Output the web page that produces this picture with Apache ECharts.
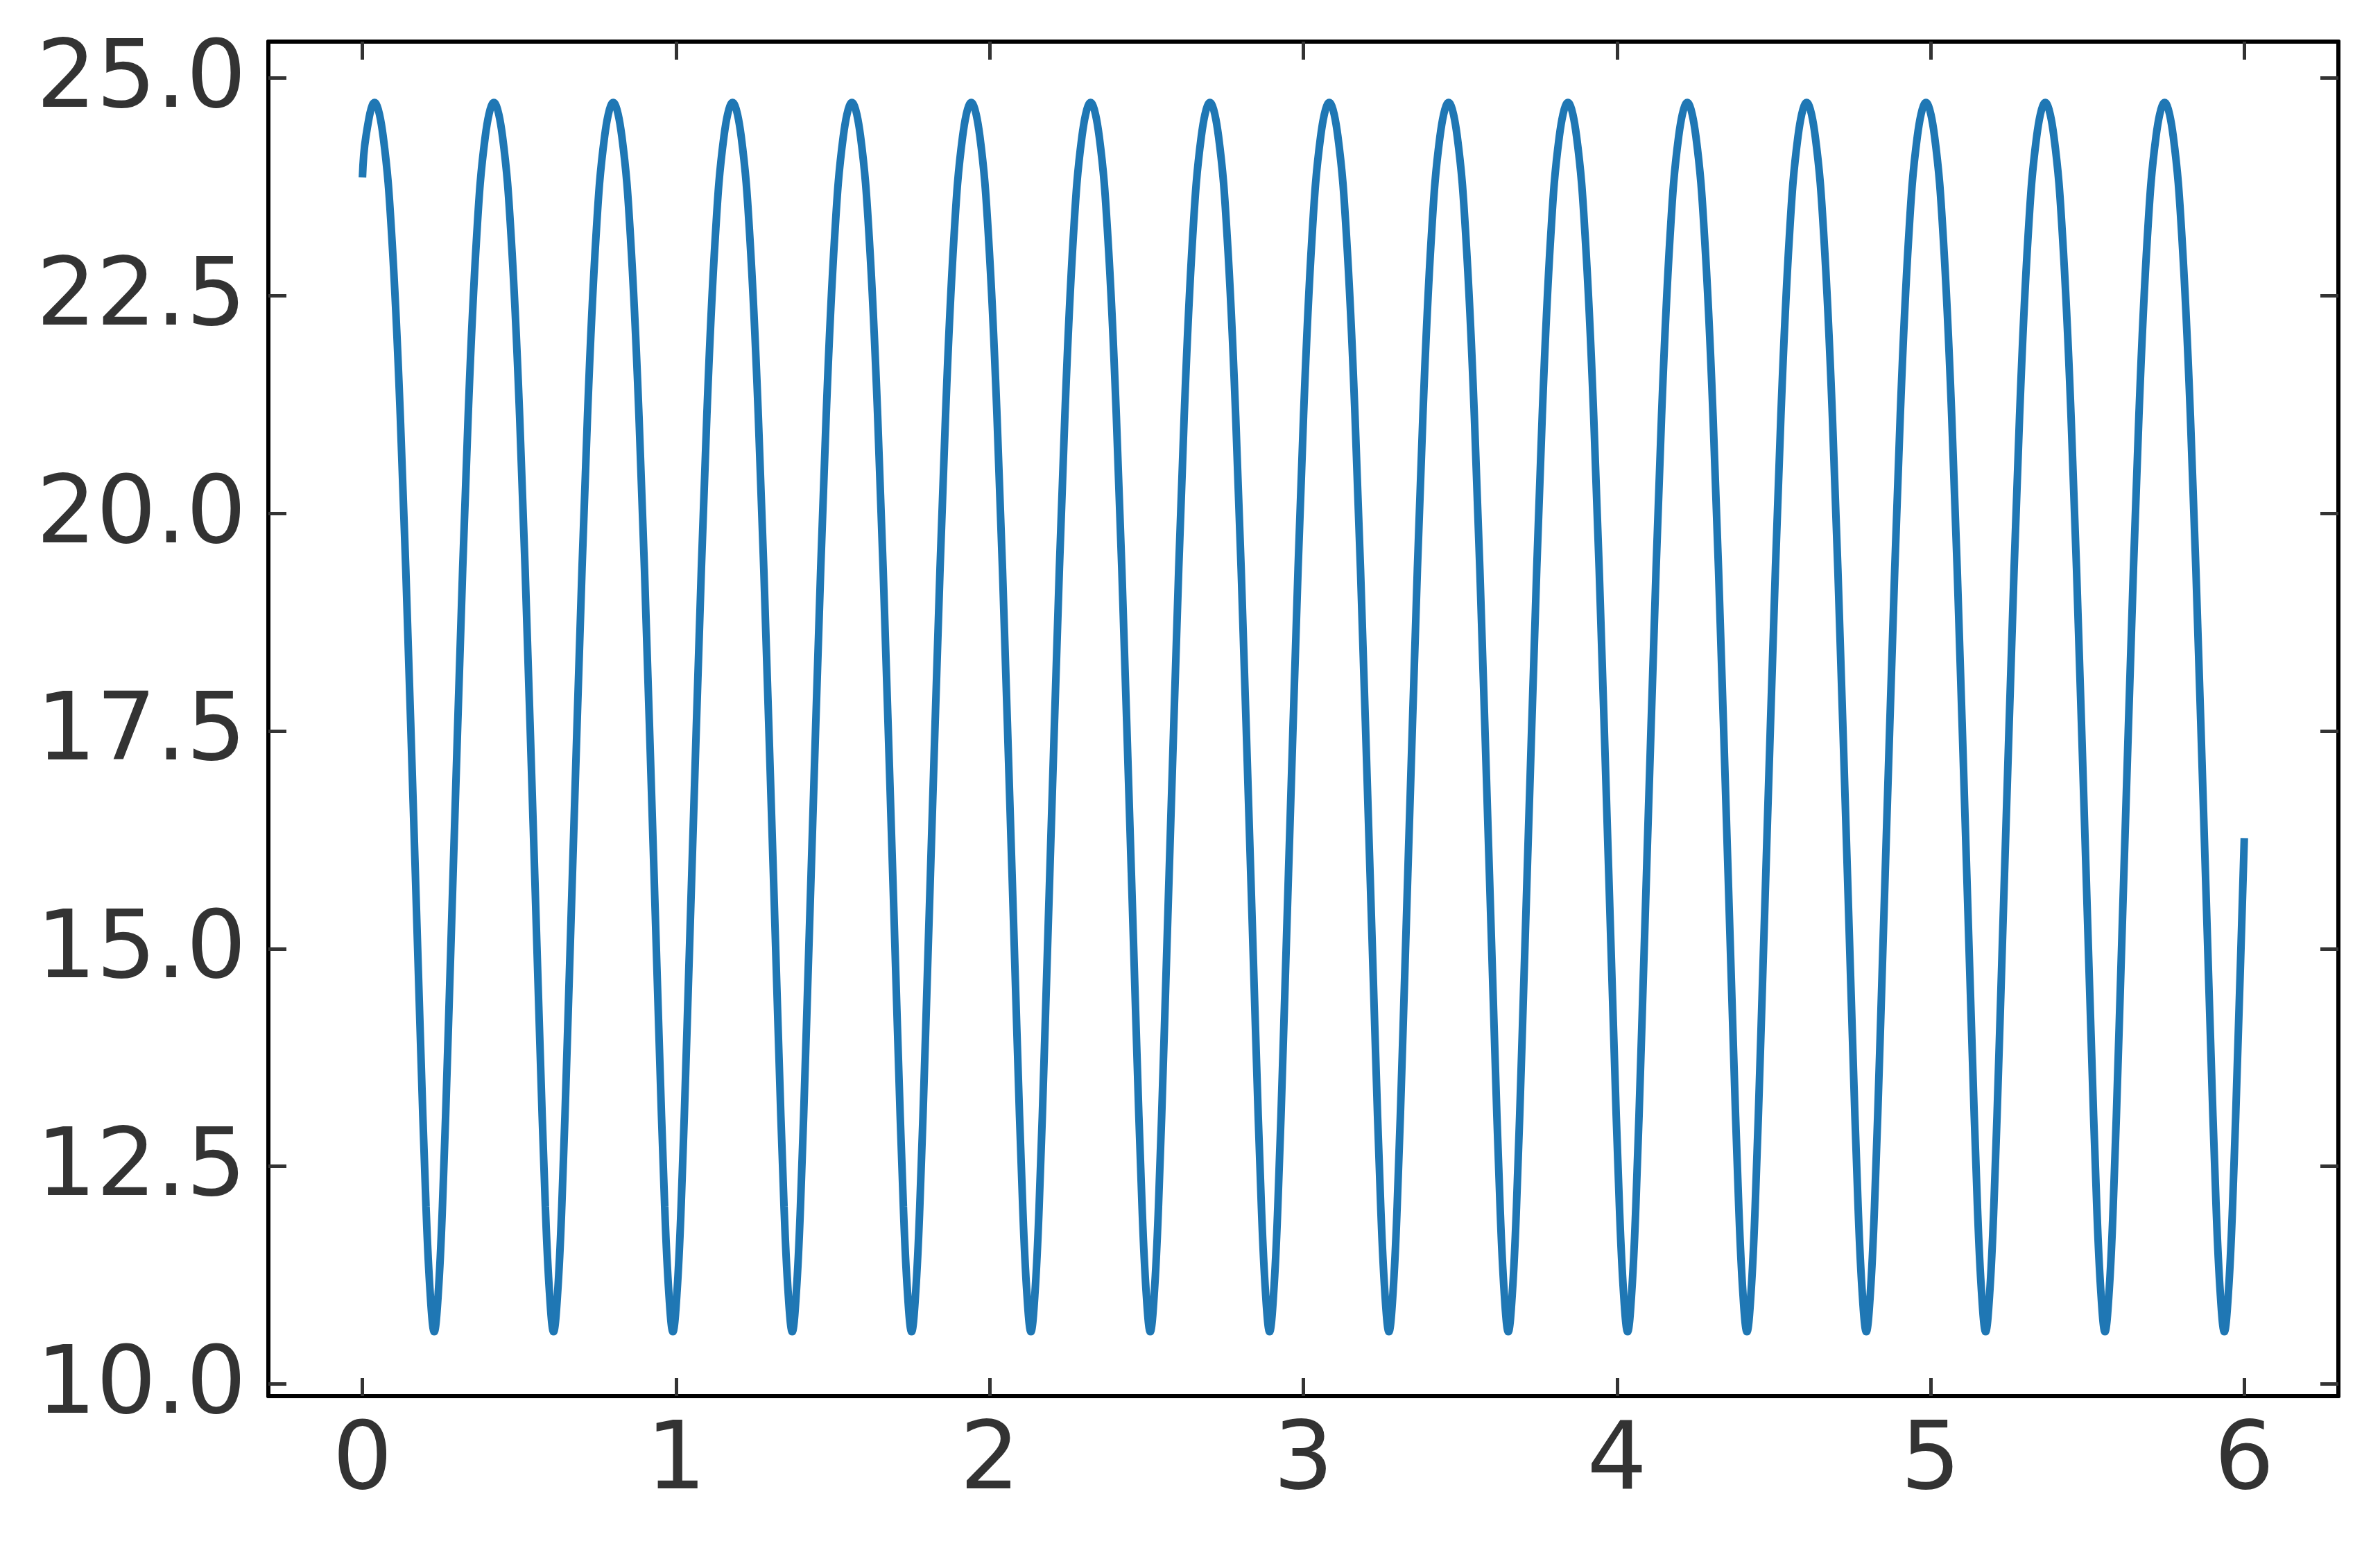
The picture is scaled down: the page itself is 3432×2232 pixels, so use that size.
<!DOCTYPE html>
<html>
<head>
<meta charset="utf-8">
<script src="https://cdn.jsdelivr.net/npm/echarts@6/dist/echarts.min.js"></script>
<style>
html, body { margin: 0; padding: 0; background: #ffffff; }
#chart { width: 3432px; height: 2232px; }
</style>
</head>
<body>
<div id="chart"></div>
<script>
// Tick labels
const xTicks = [0, 1, 2, 3, 4, 5, 6];
const yTicks = [10, 12.5, 15, 17.5, 20, 22.5, 25];

const xValues = [
  0.0000, 0.0110,
  0.0385, 0.0660, 0.0933, 0.1206, 0.1536, 0.1835, 0.2026, 0.2158, 0.2288, 0.2418, 0.2550, 0.2741, 0.3040, 0.3370, 0.3642, 0.3915,
  0.4190, 0.4465, 0.4738, 0.5011, 0.5341, 0.5640, 0.5831, 0.5963, 0.6093, 0.6223, 0.6355, 0.6546, 0.6845, 0.7175, 0.7447, 0.7720,
  0.7995, 0.8270, 0.8543, 0.8816, 0.9146, 0.9445, 0.9636, 0.9768, 0.9898, 1.0028, 1.0160, 1.0351, 1.0650, 1.0980, 1.1252, 1.1525,
  1.1800, 1.2075, 1.2348, 1.2621, 1.2951, 1.3250, 1.3441, 1.3573, 1.3703, 1.3833, 1.3965, 1.4156, 1.4455, 1.4785, 1.5057, 1.5330,
  1.5605, 1.5880, 1.6153, 1.6426, 1.6756, 1.7055, 1.7246, 1.7378, 1.7508, 1.7638, 1.7770, 1.7961, 1.8260, 1.8590, 1.8862, 1.9135,
  1.9410, 1.9685, 1.9958, 2.0231, 2.0561, 2.0860, 2.1051, 2.1183, 2.1313, 2.1443, 2.1575, 2.1766, 2.2065, 2.2395, 2.2667, 2.2940,
  2.3215, 2.3490, 2.3763, 2.4036, 2.4366, 2.4665, 2.4856, 2.4988, 2.5118, 2.5248, 2.5380, 2.5571, 2.5870, 2.6200, 2.6472, 2.6745,
  2.7020, 2.7295, 2.7568, 2.7841, 2.8171, 2.8470, 2.8661, 2.8793, 2.8923, 2.9053, 2.9185, 2.9376, 2.9675, 3.0005, 3.0277, 3.0550,
  3.0825, 3.1100, 3.1373, 3.1646, 3.1976, 3.2275, 3.2466, 3.2598, 3.2728, 3.2858, 3.2990, 3.3181, 3.3480, 3.3810, 3.4082, 3.4355,
  3.4630, 3.4905, 3.5178, 3.5451, 3.5781, 3.6080, 3.6271, 3.6403, 3.6533, 3.6663, 3.6795, 3.6986, 3.7285, 3.7615, 3.7887, 3.8160,
  3.8435, 3.8710, 3.8983, 3.9256, 3.9586, 3.9885, 4.0076, 4.0208, 4.0338, 4.0468, 4.0600, 4.0791, 4.1090, 4.1420, 4.1692, 4.1965,
  4.2240, 4.2515, 4.2788, 4.3061, 4.3391, 4.3690, 4.3881, 4.4013, 4.4143, 4.4273, 4.4405, 4.4596, 4.4895, 4.5225, 4.5497, 4.5770,
  4.6045, 4.6320, 4.6593, 4.6866, 4.7196, 4.7495, 4.7686, 4.7818, 4.7948, 4.8078, 4.8210, 4.8401, 4.8700, 4.9030, 4.9302, 4.9575,
  4.9850, 5.0125, 5.0398, 5.0671, 5.1001, 5.1300, 5.1491, 5.1623, 5.1753, 5.1883, 5.2015, 5.2206, 5.2505, 5.2835, 5.3107, 5.3380,
  5.3655, 5.3930, 5.4203, 5.4476, 5.4806, 5.5105, 5.5296, 5.5428, 5.5558, 5.5688, 5.5820, 5.6011, 5.6310, 5.6640, 5.6912, 5.7185,
  5.7460, 5.7735, 5.8008, 5.8281, 5.8611, 5.8910, 5.9101, 5.9233, 5.9363, 5.9493, 5.9625, 5.9816, 6.0000
];

const yValues = [
  23.86, 24.33,
  24.72, 24.33, 23.19, 21.12, 17.61, 14.11, 12.04, 11.05, 10.60, 11.05, 12.04, 14.11, 17.61, 21.12, 23.19, 24.33,
  24.72, 24.33, 23.19, 21.12, 17.61, 14.11, 12.04, 11.05, 10.60, 11.05, 12.04, 14.11, 17.61, 21.12, 23.19, 24.33,
  24.72, 24.33, 23.19, 21.12, 17.61, 14.11, 12.04, 11.05, 10.60, 11.05, 12.04, 14.11, 17.61, 21.12, 23.19, 24.33,
  24.72, 24.33, 23.19, 21.12, 17.61, 14.11, 12.04, 11.05, 10.60, 11.05, 12.04, 14.11, 17.61, 21.12, 23.19, 24.33,
  24.72, 24.33, 23.19, 21.12, 17.61, 14.11, 12.04, 11.05, 10.60, 11.05, 12.04, 14.11, 17.61, 21.12, 23.19, 24.33,
  24.72, 24.33, 23.19, 21.12, 17.61, 14.11, 12.04, 11.05, 10.60, 11.05, 12.04, 14.11, 17.61, 21.12, 23.19, 24.33,
  24.72, 24.33, 23.19, 21.12, 17.61, 14.11, 12.04, 11.05, 10.60, 11.05, 12.04, 14.11, 17.61, 21.12, 23.19, 24.33,
  24.72, 24.33, 23.19, 21.12, 17.61, 14.11, 12.04, 11.05, 10.60, 11.05, 12.04, 14.11, 17.61, 21.12, 23.19, 24.33,
  24.72, 24.33, 23.19, 21.12, 17.61, 14.11, 12.04, 11.05, 10.60, 11.05, 12.04, 14.11, 17.61, 21.12, 23.19, 24.33,
  24.72, 24.33, 23.19, 21.12, 17.61, 14.11, 12.04, 11.05, 10.60, 11.05, 12.04, 14.11, 17.61, 21.12, 23.19, 24.33,
  24.72, 24.33, 23.19, 21.12, 17.61, 14.11, 12.04, 11.05, 10.60, 11.05, 12.04, 14.11, 17.61, 21.12, 23.19, 24.33,
  24.72, 24.33, 23.19, 21.12, 17.61, 14.11, 12.04, 11.05, 10.60, 11.05, 12.04, 14.11, 17.61, 21.12, 23.19, 24.33,
  24.72, 24.33, 23.19, 21.12, 17.61, 14.11, 12.04, 11.05, 10.60, 11.05, 12.04, 14.11, 17.61, 21.12, 23.19, 24.33,
  24.72, 24.33, 23.19, 21.12, 17.61, 14.11, 12.04, 11.05, 10.60, 11.05, 12.04, 14.11, 17.61, 21.12, 23.19, 24.33,
  24.72, 24.33, 23.19, 21.12, 17.61, 14.11, 12.04, 11.05, 10.60, 11.05, 12.04, 14.11, 17.61, 21.12, 23.19, 24.33,
  24.72, 24.33, 23.19, 21.12, 17.61, 14.11, 12.04, 11.05, 10.60, 11.05, 12.04, 14.11, 16.27
];

const seriesData = xValues.map((x, i) => [x, yValues[i]]);

const chart = echarts.init(document.getElementById('chart'), null, {
  renderer: 'canvas', width: 3432, height: 2232
});

const FONT = 'DejaVu Sans';
const TICK_COLOR = '#333333';
const LABEL_COLOR = '#333333';
const FONT_SIZE = 136;

function frameAxis(position, isX, showLabels, ticks) {
  const label = {
    show: showLabels,
    customValues: ticks,
    color: LABEL_COLOR,
    fontFamily: FONT,
    fontSize: FONT_SIZE,
    margin: isX ? 30 : 32
  };
  if (isX) {
    label.formatter = (v) => String(Math.round(v));
  } else {
    label.formatter = (v) => '{t|' + v.toFixed(1) + '}';
    label.rich = {
      t: { padding: [12, 0, 0, 0], color: LABEL_COLOR, fontFamily: FONT, fontSize: FONT_SIZE }
    };
  }
  return {
    type: 'value',
    position: position,
    min: isX ? -0.3 : 9.86,
    max: isX ? 6.3 : 25.42,
    splitLine: { show: false },
    axisLine: { show: true, onZero: false, lineStyle: { color: '#000000', width: 6 } },
    axisTick: {
      show: true, inside: true, length: 26,
      customValues: ticks,
      lineStyle: { color: TICK_COLOR, width: 5 }
    },
    axisLabel: label
  };
}

chart.setOption({
  animation: false,
  backgroundColor: '#ffffff',
  grid: { left: 387, right: 60, top: 60, bottom: 219, containLabel: false },
  xAxis: [
    frameAxis('bottom', true, true, xTicks),
    frameAxis('top', true, false, xTicks)
  ],
  yAxis: [
    frameAxis('left', false, true, yTicks),
    frameAxis('right', false, false, yTicks)
  ],
  series: [{
    type: 'line',
    xAxisIndex: 0,
    yAxisIndex: 0,
    data: seriesData,
    showSymbol: false,
    smooth: 0.4,
    clip: false,
    lineStyle: { color: '#1f77b4', width: 11 }
  }]
});
</script>
</body>
</html>
